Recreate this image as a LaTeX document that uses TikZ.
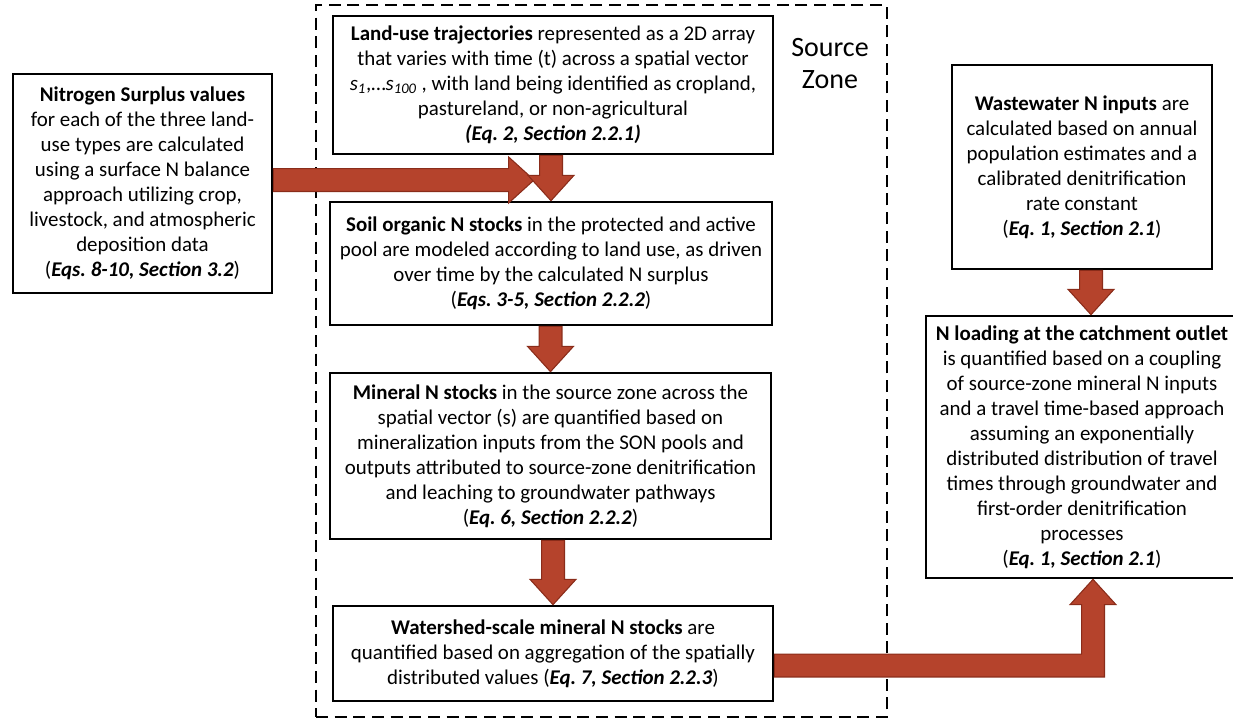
\documentclass[tikz,border=0pt]{standalone}
\usepackage{fontspec}
\setmainfont{Carlito}
\usetikzlibrary{calc}

\definecolor{flowred}{HTML}{B5432C}
\definecolor{flowedge}{HTML}{8A2C1A}

% fat flow arrows, sizes in pt
\def\sw{8.6pt}
\def\hw{17.25pt}
\def\hl{19pt}
\newcommand{\flowdown}[2]{%
    \filldraw[flow] let \p1=(#1), \p2=(#2) in
        (\x2-\sw,\y1) -- (\x2-\sw,\y2+\hl) -- (\x2-\hw,\y2+\hl) -- (\x2,\y2)
        -- (\x2+\hw,\y2+\hl) -- (\x2+\sw,\y2+\hl) -- (\x2+\sw,\y1) -- cycle;
}
\newcommand{\flowright}[2]{%
    \filldraw[flow] let \p1=(#1), \p2=(#2) in
        (\x1,\y2+\sw) -- (\x2-\hl,\y2+\sw) -- (\x2-\hl,\y2+\hw) -- (\x2,\y2)
        -- (\x2-\hl,\y2-\hw) -- (\x2-\hl,\y2-\sw) -- (\x1,\y2-\sw) -- cycle;
}
\newcommand{\flowbentup}[2]{%
    \filldraw[flow] let \p1=(#1), \p2=(#2) in
        (\x1,\y1+\sw) -- (\x2-\sw,\y1+\sw) -- (\x2-\sw,\y2-\hl) -- (\x2-\hw,\y2-\hl)
        -- (\x2,\y2) -- (\x2+\hw,\y2-\hl) -- (\x2+\sw,\y2-\hl) -- (\x2+\sw,\y1-\sw)
        -- (\x1,\y1-\sw) -- cycle;
}

\begin{document}
\begin{tikzpicture}[
    x=0.75pt, y=-0.75pt,
    every node/.style={
        font=\fontsize{15.7}{18.75}\selectfont\frenchspacing,
    },
    box/.style={
        draw, line width=2pt, fill=white, align=center, inner sep=0pt,
    },
    zone/.style={
        draw, line width=1.5pt, dash pattern=on 9pt off 5pt,
    },
    flow/.style={
        fill=flowred, draw=flowedge, line width=0.8pt, line join=miter,
    },
]
    \useasboundingbox (0,0) rectangle (1233,719);

    % source zone frame
    \node[zone, minimum width={571*0.75pt}, minimum height={712*0.75pt}] (srczone) at (601.5,361) {};
    \node[font=\fontsize{21}{24}\selectfont, align=center] (zonelabel) at (830,64) {Source\\Zone};

    % boxes
    \node[box, minimum width={440*0.75pt}, minimum height={138*0.75pt}] (land) at (553,85) {
        \textbf{Land-use trajectories} represented as a 2D array\\
        that varies with time (t) across a spatial vector\\
        \textit{s}\textsubscript{\textit{1}},…\textit{s}\textsubscript{\textit{100}} , with land being identified as cropland,\\
        pastureland, or non-agricultural\\
        \textbf{\textit{(Eq. 2, Section 2.2.1)}}
    };
    \node[box, minimum width={442*0.75pt}, minimum height={123*0.75pt}] (soil) at (551,263.5) {
        \textbf{Soil organic N stocks} in the protected and active\\
        pool are modeled according to land use, as driven\\
        over time by the calculated N surplus\\
        (\textbf{\textit{Eqs. 3-5, Section 2.2.2}})
    };
    \node[box, minimum width={441*0.75pt}, minimum height={166*0.75pt}] (mineral) at (550.5,456) {
        \textbf{Mineral N stocks} in the source zone across the\\
        spatial vector (s) are quantified based on\\
        mineralization inputs from the SON pools and\\
        outputs attributed to source-zone denitrification\\
        and leaching to groundwater pathways\\
        (\textbf{\textit{Eq. 6, Section 2.2.2}})
    };
    \node[box, minimum width={440*0.75pt}, minimum height={95*0.75pt}] (watershed) at (553,653.5) {
        \textbf{Watershed-scale mineral N stocks} are\\
        quantified based on aggregation of the spatially\\
        distributed values (\textbf{\textit{Eq. 7, Section 2.2.3}})
    };
    \node[box, minimum width={259*0.75pt}, minimum height={219*0.75pt}] (nitro) at (142.5,183.5) {
        \textbf{Nitrogen Surplus values}\\
        for each of the three land-\\
        use types are calculated\\
        using a surface N balance\\
        approach utilizing crop,\\
        livestock, and atmospheric\\
        deposition data\\
        (\textbf{\textit{Eqs. 8-10, Section 3.2}})
    };
    \node[box, minimum width={260*0.75pt}, minimum height={204*0.75pt}] (waste) at (1082,167) {
        \textbf{Wastewater N inputs} are\\
        calculated based on annual\\
        population estimates and a\\
        calibrated denitrification\\
        rate constant\\
        (\textbf{\textit{Eq. 1, Section 2.1}})
    };
    \node[box, minimum width={312*0.75pt}, minimum height={262*0.75pt}] (nload) at (1082,447) {
        \textbf{N loading at the catchment outlet}\\
        is quantified based on a coupling\\
        of source-zone mineral N inputs\\
        and a travel time-based approach\\
        assuming an exponentially\\
        distributed distribution of travel\\
        times through groundwater and\\
        first-order denitrification\\
        processes\\
        (\textbf{\textit{Eq. 1, Section 2.1}})
    };

    % flows
    \coordinate (merge) at (534,180);
    \coordinate (inN) at ($(nload.north)+(9,0)$);
    \coordinate (outN) at ($(nload.south)+(11,0)$);
    \coordinate (wsout) at ($(watershed.east)+(0,12)$);
    \flowright{nitro.east}{merge}
    \flowdown{land.south}{soil.north}
    \flowdown{soil.south}{mineral.north}
    \flowdown{mineral.south}{watershed.north}
    \flowdown{waste.south}{inN}
    \flowbentup{wsout}{outN}
\end{tikzpicture}
\end{document}
